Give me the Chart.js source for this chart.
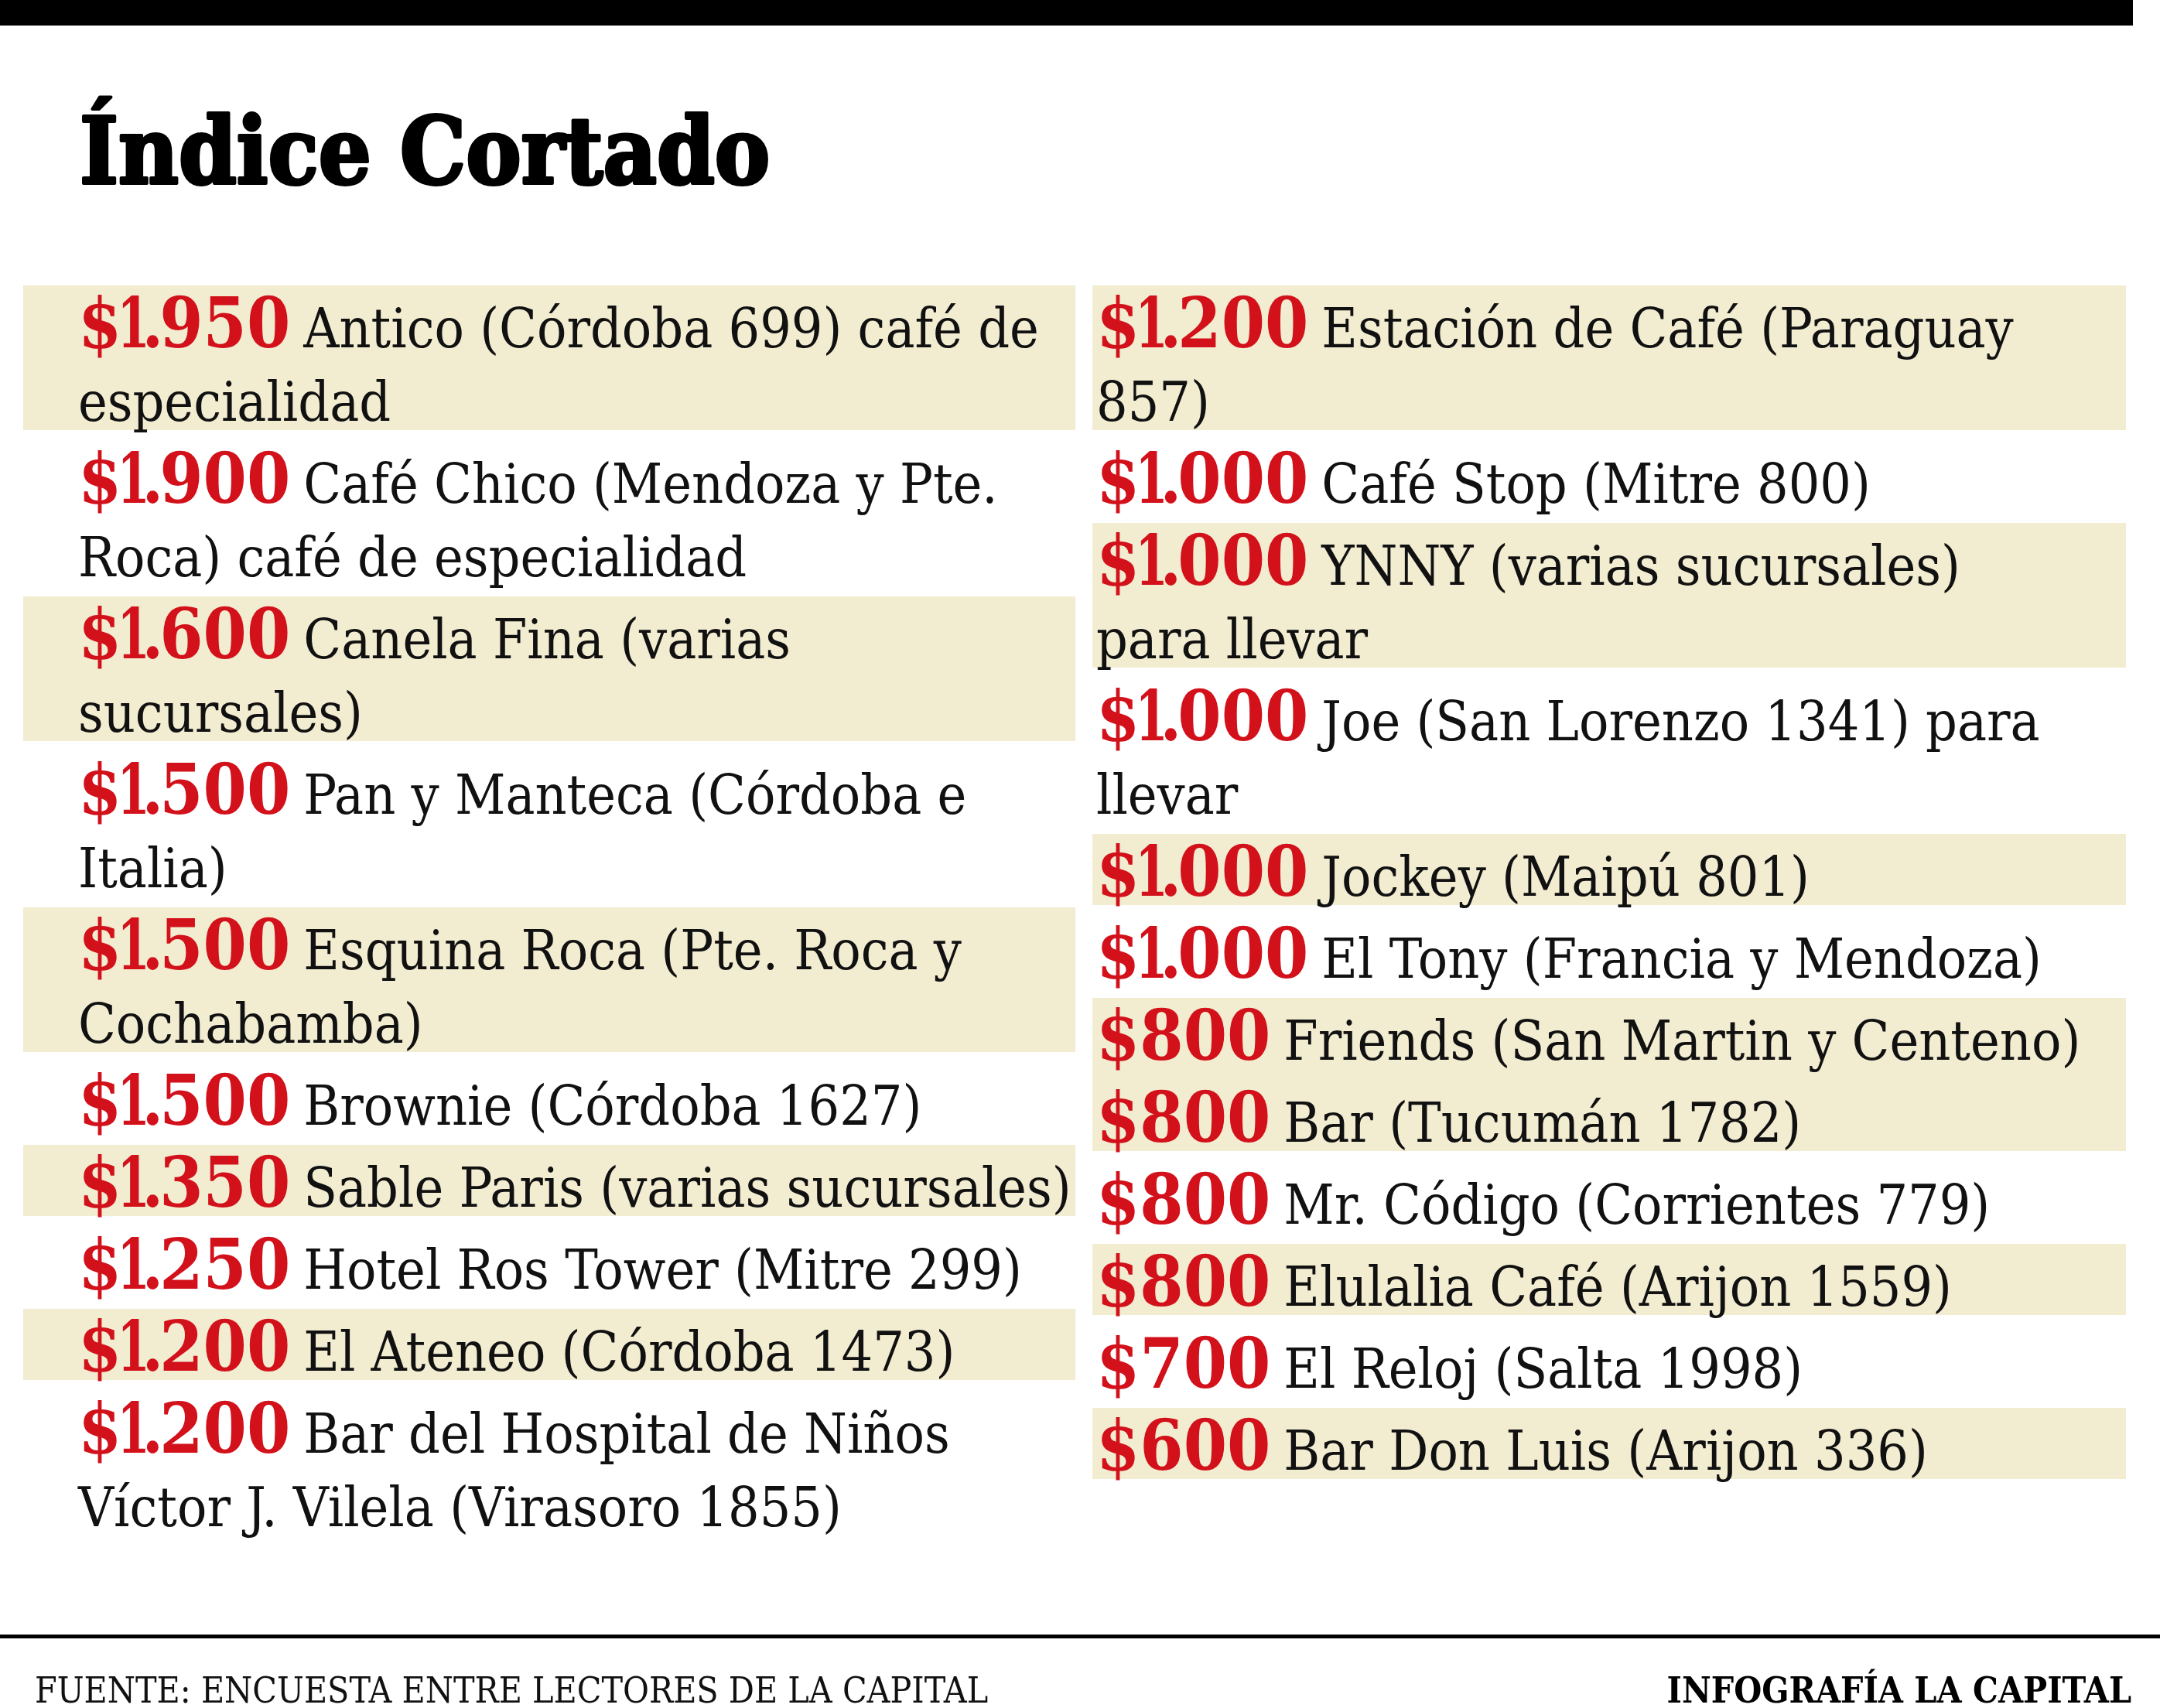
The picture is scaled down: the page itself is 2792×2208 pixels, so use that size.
<!DOCTYPE html>
<html>
<head>
<meta charset="utf-8">
<script src="https://cdn.jsdelivr.net/npm/chart.js@4.4.0/dist/chart.umd.min.js"></script>
<style>
  html, body { margin: 0; padding: 0; background: #fff; }
  canvas { display: block; }
</style>
</head>
<body>
<canvas id="cortado" width="2792" height="2208"></canvas>
<script>
const title = 'Índice Cortado';
const source = 'FUENTE: ENCUESTA ENTRE LECTORES DE LA CAPITAL';
const credit = 'INFOGRAFÍA LA CAPITAL';

// precio del cortado, en pesos
const prices = [1950, 1900, 1600, 1500, 1500, 1500, 1350, 1250, 1200, 1200,
  1200, 1000, 1000, 1000, 1000, 1000, 800, 800, 800, 800, 700, 600];

const places = [
  'Antico (Córdoba 699) café de\nespecialidad',
  'Café Chico (Mendoza y Pte.\nRoca) café de especialidad',
  'Canela Fina (varias\nsucursales)',
  'Pan y Manteca (Córdoba e\nItalia)',
  'Esquina Roca (Pte. Roca y\nCochabamba)',
  'Brownie (Córdoba 1627)',
  'Sable Paris (varias sucursales)',
  'Hotel Ros Tower (Mitre 299)',
  'El Ateneo (Córdoba 1473)',
  'Bar del Hospital de Niños\nVíctor J. Vilela (Virasoro 1855)',
  'Estación de Café (Paraguay\n857)',
  'Café Stop (Mitre 800)',
  'YNNY (varias sucursales)\npara llevar',
  'Joe (San Lorenzo 1341) para\nllevar',
  'Jockey (Maipú 801)',
  'El Tony (Francia y Mendoza)',
  'Friends (San Martin y Centeno)',
  'Bar (Tucumán 1782)',
  'Mr. Código (Corrientes 779)',
  'Elulalia Café (Arijon 1559)',
  'El Reloj (Salta 1998)',
  'Bar Don Luis (Arijon 336)'
];

const column = [0, 0, 0, 0, 0, 0, 0, 0, 0, 0, 1, 1, 1, 1, 1, 1, 1, 1, 1, 1, 1, 1];
const shaded = [1, 0, 1, 0, 1, 0, 1, 0, 1, 0, 1, 0, 1, 0, 1, 0, 1, 1, 0, 1, 0, 1];

// layout (row units: one single-line entry = 1)
const EXTRA_LINE = 95 / 106;
const BASELINE = 80 / 106;
const GAP = 14 / 106;
const COLS = [
  { x0: 0, x1: 0.5004, tx: 0.0261 },
  { x0: 0.5085, x1: 1, tx: 0.5103 }
];

const colors = {
  price: '#d2111b',
  text: '#111111',
  stripe: '#f2ecd1',
  ink: '#000000'
};

const fonts = {
  title: "bold 119px 'DejaVu Serif Condensed'",
  price: "bold 90px 'DejaVu Serif Condensed'",
  name: "71px 'DejaVu Serif Condensed'",
  source: "46px 'DejaVu Serif Condensed'",
  credit: "bold 46px 'DejaVu Serif Condensed'"
};

function fmtPrice(v) {
  if (v < 1000) return '$' + v;
  return '$' + Math.floor(v / 1000) + '.' + String(v % 1000).padStart(3, '0');
}

// draws the price with a narrow, tight "1." pair, returns its width
function drawPrice(ctx, label, x, y) {
  let cx = x;
  for (const ch of label) {
    const m = ctx.measureText(ch);
    if (ch === '1') {
      const sx = 0.75;
      const ink = m.actualBoundingBoxLeft + m.actualBoundingBoxRight;
      ctx.save();
      ctx.translate(cx + 1, y);
      ctx.scale(sx, 1);
      ctx.fillText(ch, m.actualBoundingBoxLeft, 0);
      ctx.restore();
      cx += ink * sx + 1;
    } else if (ch === '.') {
      const ox = cx + m.actualBoundingBoxLeft + 1;
      ctx.fillText(ch, ox, y);
      cx = ox + m.actualBoundingBoxRight + 1;
    } else {
      ctx.fillText(ch, cx, y);
      cx += m.width;
    }
  }
  return cx - x;
}

// where each entry starts in its column
const lines = places.map(p => p.split('\n'));
const starts = [];
const sizes = [];
const totals = [0, 0];
prices.forEach((p, i) => {
  const c = column[i];
  starts.push(totals[c]);
  const h = 1 + EXTRA_LINE * (lines[i].length - 1);
  sizes.push(h);
  totals[c] += h;
});
const rowsMax = Math.max(...totals);

const listPlugin = {
  id: 'list',
  beforeDatasetsDraw(chart) {
    const { ctx, scales: { x, y } } = chart;
    ctx.save();
    ctx.fillStyle = colors.stripe;
    prices.forEach((p, i) => {
      if (!shaded[i]) return;
      const col = COLS[column[i]];
      const joined = i + 1 < prices.length && column[i + 1] === column[i] && shaded[i + 1];
      const top = y.getPixelForValue(starts[i]);
      const bot = y.getPixelForValue(starts[i] + sizes[i] - (joined ? 0 : GAP));
      const l = x.getPixelForValue(col.x0);
      const r = x.getPixelForValue(col.x1);
      ctx.fillRect(l, top, r - l, bot - top);
    });
    ctx.restore();
  },
  afterDatasetsDraw(chart) {
    const { ctx, scales: { y } } = chart;
    const meta = chart.getDatasetMeta(0);
    const unit = y.getPixelForValue(1) - y.getPixelForValue(0);
    ctx.save();
    ctx.textBaseline = 'alphabetic';
    ctx.textAlign = 'left';
    meta.data.forEach((pt, i) => {
      const x0 = pt.x;
      let base = pt.y + BASELINE * unit;
      ctx.font = fonts.price;
      ctx.fillStyle = colors.price;
      const w = drawPrice(ctx, fmtPrice(prices[i]), x0, base);
      ctx.font = fonts.name;
      ctx.fillStyle = colors.text;
      lines[i].forEach((ln, k) => {
        ctx.fillText(ln, k === 0 ? x0 + w + 17 : x0, base);
        base += EXTRA_LINE * unit;
      });
    });
    ctx.restore();
  },
  afterDraw(chart) {
    const { ctx, width } = chart;
    ctx.save();
    ctx.fillStyle = colors.ink;
    ctx.fillRect(0, 0, 2757, 33);
    ctx.font = fonts.title;
    ctx.textBaseline = 'alphabetic';
    ctx.strokeStyle = colors.ink;
    ctx.lineWidth = 4;
    ctx.lineJoin = 'round';
    ctx.fillText(title, 103, 237);
    ctx.strokeText(title, 103, 237);
    ctx.fillRect(0, 2113, width, 5);
    ctx.font = fonts.source;
    ctx.fillStyle = colors.text;
    ctx.fillText(source, 45, 2201);
    ctx.font = fonts.credit;
    ctx.fillStyle = colors.ink;
    ctx.textAlign = 'right';
    ctx.fillText(credit, 2755, 2201);
    ctx.restore();
  }
};

const ctx = document.getElementById('cortado');
new Chart(ctx, {
  type: 'scatter',
  data: {
    datasets: [{
      label: 'Cortado',
      data: prices.map((p, i) => ({ x: COLS[column[i]].tx, y: starts[i] })),
      pointRadius: 0,
      pointHoverRadius: 0
    }]
  },
  options: {
    responsive: false,
    animation: false,
    devicePixelRatio: 1,
    layout: { padding: { left: 30, right: 44, top: 369, bottom: 209 } },
    plugins: { legend: { display: false }, tooltip: { enabled: false } },
    scales: {
      x: { type: 'linear', min: 0, max: 1, display: false },
      y: { type: 'linear', min: 0, max: rowsMax, reverse: true, display: false }
    }
  },
  plugins: [listPlugin]
});
</script>
</body>
</html>
